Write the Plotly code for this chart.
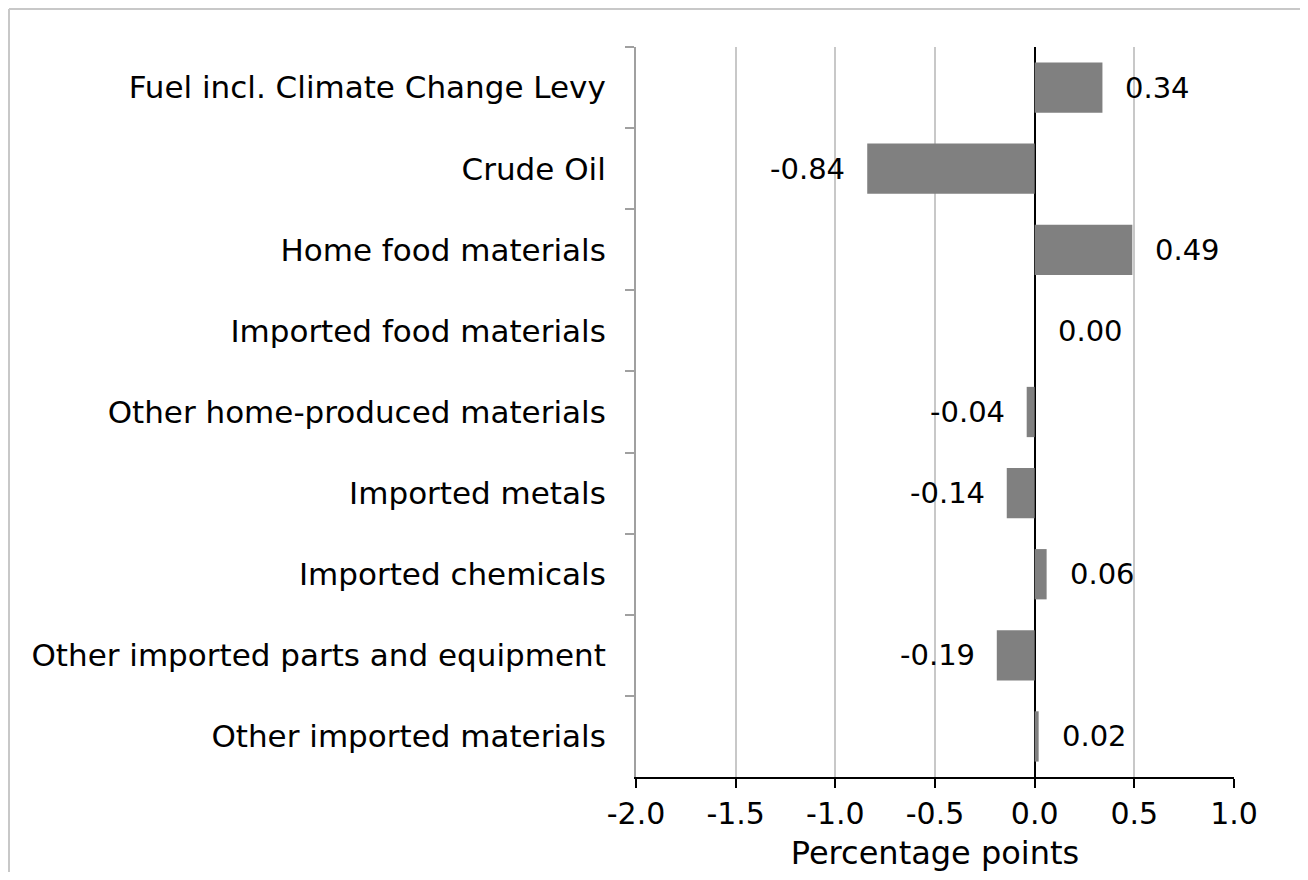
import plotly.graph_objects as go

categories = [
    "Fuel incl. Climate Change Levy",
    "Crude Oil",
    "Home food materials",
    "Imported food materials",
    "Other home-produced materials",
    "Imported metals",
    "Imported chemicals",
    "Other imported parts and equipment",
    "Other imported materials",
]
values = [0.34, -0.84, 0.49, 0.00, -0.04, -0.14, 0.06, -0.19, 0.02]
x_ticks = [-2.0, -1.5, -1.0, -0.5, 0.0, 0.5, 1.0]
x_tick_labels = ["-2.0", "-1.5", "-1.0", "-0.5", "0.0", "0.5", "1.0"]

FONT = "DejaVu Sans, Liberation Sans, Arial, sans-serif"

L, T, W, H = 628, 39, 598, 730
WIDTH, HEIGHT = 1292, 864

fig = go.Figure()
fig.add_trace(go.Bar(
    x=values, y=categories, orientation="h",
    marker=dict(color="#808080", line=dict(width=0)),
    hoverinfo="x+y",
))

for cat, v in zip(categories, values):
    fig.add_annotation(
        x=v, y=cat, xref="x", yref="y",
        text=f"{v:.2f}", showarrow=False,
        xanchor="left" if v >= 0 else "right",
        xshift=21 if v >= 0 else -20,
        font=dict(family=FONT, size=29, color="#000000"),
    )

fig.update_layout(
    width=WIDTH, height=HEIGHT,
    margin=dict(l=L, r=WIDTH - L - W, t=T, b=HEIGHT - T - H, autoexpand=False),
    paper_bgcolor="#ffffff", plot_bgcolor="#ffffff",
    bargap=0.38,
    showlegend=False,
    font=dict(family=FONT, size=30, color="#000000"),
    xaxis=dict(
        range=[-2.0, 1.0],
        tickvals=x_ticks, ticktext=x_tick_labels,
        showgrid=True, gridcolor="#c8c8c8", gridwidth=2,
        zeroline=True, zerolinecolor="#000000", zerolinewidth=2,
        showline=True, linecolor="#000000", linewidth=2,
        ticks="outside", ticklen=9, tickwidth=2, tickcolor="#000000",
        tickfont=dict(family=FONT, size=30, color="#000000"),
        title=dict(text="Percentage points", standoff=21,
                   font=dict(family=FONT, size=32, color="#000000")),
        automargin=False,
        fixedrange=True,
    ),
    yaxis=dict(
        autorange="reversed",
        showgrid=False, zeroline=False,
        showline=True, linecolor="#a0a0a0", linewidth=2,
        ticks="outside", tickson="boundaries", ticklen=9, tickwidth=2,
        tickcolor="#a0a0a0",
        ticklabelstandoff=22,
        tickfont=dict(family=FONT, size=31, color="#000000"),
        automargin=False,
        fixedrange=True,
    ),
)

# outer light-grey chart frame (top and left edges visible)
fig.add_shape(
    type="line", xref="paper", yref="paper",
    x0=(1 - L) / W, x1=(WIDTH + 10 - L) / W,
    y0=(T + H - 1) / H, y1=(T + H - 1) / H,
    line=dict(color="#c8c8c8", width=2), layer="below",
)
fig.add_shape(
    type="line", xref="paper", yref="paper",
    x0=(1 - L) / W, x1=(1 - L) / W,
    y0=(T + H - HEIGHT - 10) / H, y1=(T + H - 1) / H,
    line=dict(color="#c8c8c8", width=2), layer="below",
)

fig.write_html("out.html")
